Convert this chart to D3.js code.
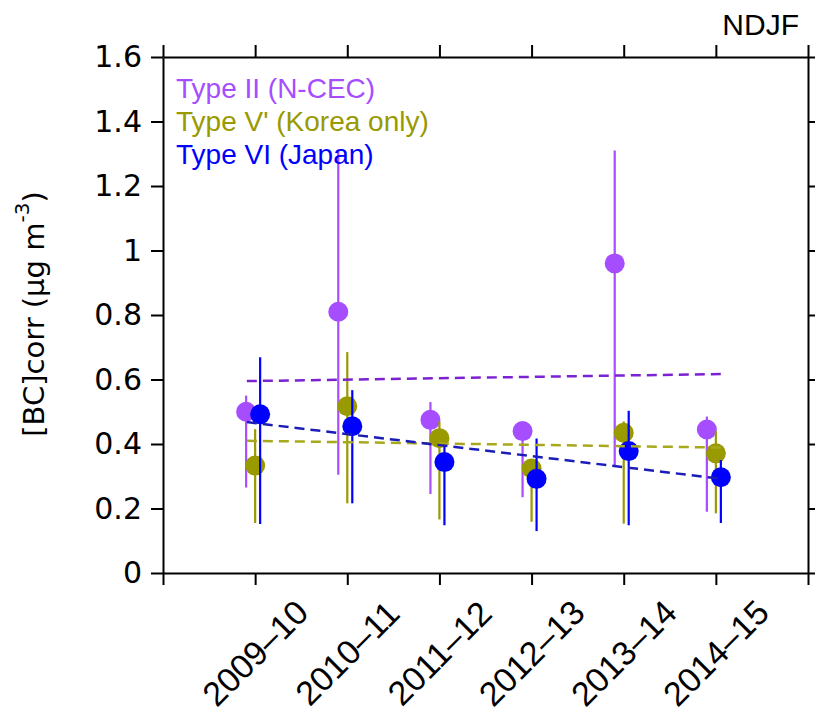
<!DOCTYPE html>
<html>
<head>
<meta charset="utf-8">
<script src="https://cdn.jsdelivr.net/npm/d3@7"></script>
<style>
  body { margin: 0; background: #fff; }
  svg { display: block; }
</style>
</head>
<body>
<svg id="chart" width="815" height="717"></svg>
<script>
// Winter (NDJF) seasons on the x axis
const seasons = ["2009\u201310", "2010\u201311", "2011\u201312", "2012\u201313", "2013\u201314", "2014\u201315"];

// Type II (N-CEC): mean and error-bar range
const typeIIMean = [0.50, 0.81, 0.475, 0.44, 0.96, 0.445];
const typeIILow  = [0.265, 0.305, 0.245, 0.235, 0.33, 0.19];
const typeIIHigh = [0.55, 1.31, 0.53, 0.46, 1.31, 0.485];

// Type V' (Korea only)
const typeVMean = [0.333, 0.517, 0.418, 0.324, 0.435, 0.371];
const typeVLow  = [0.155, 0.216, 0.166, 0.159, 0.153, 0.185];
const typeVHigh = [0.446, 0.685, 0.47, 0.35, 0.47, 0.44];

// Type VI (Japan)
const typeVIMean = [0.492, 0.455, 0.344, 0.292, 0.378, 0.297];
const typeVILow  = [0.152, 0.216, 0.148, 0.13, 0.148, 0.155];
const typeVIHigh = [0.669, 0.567, 0.40, 0.417, 0.503, 0.35];

// Linear trend of each type: value at the first and last season
const trendII = [0.595, 0.617];
const trendV  = [0.410, 0.389];
const trendVI = [0.468, 0.292];

const yTicks = [0, 0.2, 0.4, 0.6, 0.8, 1.0, 1.2, 1.4, 1.6];
const yTickLabels = ["0", "0.2", "0.4", "0.6", "0.8", "1", "1.2", "1.4", "1.6"];

const legendLabels = ["Type II (N-CEC)", "Type V' (Korea only)", "Type VI (Japan)"];
const panelLabel = "NDJF";

// ---- styling ----
const markerColors = ["#a64dff", "#999900", "#0000ff"];
const trendColors  = ["#7b22d2", "#a8a81c", "#1c1cb8"];
const offsets = [-9, 0, 5];   // horizontal shift of each type within a season

const svg = d3.select("#chart");
const margin = { left: 163, right: 7, top: 57, bottom: 144 };
const W = 815, H = 717;
const x0 = margin.left, x1 = W - margin.right;
const y0 = H - margin.bottom, y1 = margin.top;

const x = d3.scaleLinear().domain([0, seasons.length + 1]).range([x0, x1]);
const y = d3.scaleLinear().domain([0, 1.6]).range([y0, y1]);

const series = [
  { mean: typeIIMean, low: typeIILow, high: typeIIHigh, trend: trendII },
  { mean: typeVMean,  low: typeVLow,  high: typeVHigh,  trend: trendV },
  { mean: typeVIMean, low: typeVILow, high: typeVIHigh, trend: trendVI }
];

const sansArial = "Arial, 'Liberation Sans', sans-serif";
const sansVerdana = "Verdana, 'DejaVu Sans', sans-serif";

// ---- axes ----
const xTickVals = d3.range(0, seasons.length + 2);
const tickLen = 12;

svg.append("g")
  .attr("transform", `translate(0,${y0})`)
  .call(d3.axisBottom(x).tickValues(xTickVals).tickFormat("").tickSizeInner(tickLen).tickSizeOuter(0))
  .call(g => g.selectAll("line,path").attr("stroke", "#000").attr("stroke-width", 2));

svg.append("g")
  .attr("transform", `translate(0,${y1})`)
  .call(d3.axisTop(x).tickValues(xTickVals).tickFormat("").tickSizeInner(tickLen).tickSizeOuter(0))
  .call(g => g.selectAll("line,path").attr("stroke", "#000").attr("stroke-width", 2));

svg.append("g")
  .attr("transform", `translate(${x0},0)`)
  .call(d3.axisLeft(y).tickValues(yTicks).tickFormat((d, i) => yTickLabels[i]).tickSizeInner(tickLen).tickSizeOuter(0).tickPadding(9))
  .call(g => g.selectAll("line,path").attr("stroke", "#000").attr("stroke-width", 2))
  .call(g => g.selectAll("text").attr("font-family", sansVerdana).attr("font-size", 30).attr("fill", "#000"));

svg.append("g")
  .attr("transform", `translate(${x1},0)`)
  .call(d3.axisRight(y).tickValues(yTicks).tickFormat("").tickSizeInner(tickLen).tickSizeOuter(0))
  .call(g => g.selectAll("line,path").attr("stroke", "#000").attr("stroke-width", 2));

// rotated season labels
svg.append("g").selectAll("text")
  .data(seasons)
  .join("text")
  .attr("transform", (d, i) => `translate(${x(i + 1)},${653}) rotate(-45)`)
  .attr("text-anchor", "middle")
  .attr("dominant-baseline", "central")
  .attr("font-family", sansArial)
  .attr("font-size", 34)
  .attr("fill", "#000")
  .text(d => d);

// y-axis title
const yTitle = svg.append("text")
  .attr("transform", `translate(34,314) rotate(-90)`)
  .attr("text-anchor", "middle")
  .attr("dominant-baseline", "central")
  .attr("font-family", sansVerdana)
  .attr("font-size", 29)
  .attr("fill", "#000");
yTitle.append("tspan").text("[BC]corr (\u03bcg m");
yTitle.append("tspan").attr("font-size", 20).attr("dy", -12).text("-3");
yTitle.append("tspan").attr("dy", 12).text(")");

// panel label
svg.append("text")
  .attr("x", 799).attr("y", 35)
  .attr("text-anchor", "end")
  .attr("font-family", sansArial)
  .attr("font-size", 30)
  .attr("fill", "#000")
  .text(panelLabel);

// ---- data: error bars and markers, one type after another ----
series.forEach((s, k) => {
  const g = svg.append("g");
  g.selectAll("line")
    .data(s.mean.map((m, i) => i))
    .join("line")
    .attr("x1", i => x(i + 1) + offsets[k])
    .attr("x2", i => x(i + 1) + offsets[k])
    .attr("y1", i => y(s.low[i]))
    .attr("y2", i => y(s.high[i]))
    .attr("stroke", markerColors[k])
    .attr("stroke-width", 2.2);
  g.selectAll("circle")
    .data(s.mean)
    .join("circle")
    .attr("cx", (d, i) => x(i + 1) + offsets[k])
    .attr("cy", d => y(d))
    .attr("r", 10)
    .attr("fill", markerColors[k]);
});

// ---- trend lines ----
const trendStart = 0.91, trendEnd = seasons.length + 0.06;
series.forEach((s, k) => {
  svg.append("line")
    .attr("x1", x(trendStart)).attr("y1", y(s.trend[0]))
    .attr("x2", x(trendEnd)).attr("y2", y(s.trend[1]))
    .attr("stroke", trendColors[k])
    .attr("stroke-width", 2.5)
    .attr("stroke-dasharray", "10,6");
});

// ---- legend ----
svg.append("g").selectAll("text")
  .data(legendLabels)
  .join("text")
  .attr("x", 176)
  .attr("y", (d, i) => 98 + i * 33)
  .attr("font-family", sansArial)
  .attr("font-size", 28)
  .attr("fill", (d, i) => markerColors[i])
  .text(d => d);
</script>
</body>
</html>
